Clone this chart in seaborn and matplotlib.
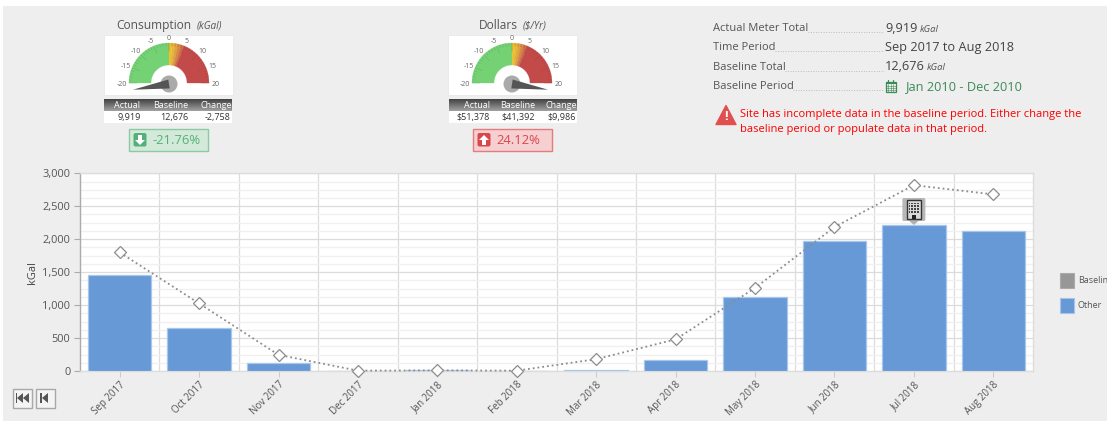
import numpy as np
import pandas as pd
import matplotlib
matplotlib.use("Agg")
import matplotlib.pyplot as plt
import seaborn as sns
from matplotlib.patches import Rectangle, FancyBboxPatch, Polygon, Circle
from matplotlib.ticker import MultipleLocator, FixedLocator, StrMethodFormatter

# ---- data ----
months = ["Sep 2017", "Oct 2017", "Nov 2017", "Dec 2017", "Jan 2018", "Feb 2018",
          "Mar 2018", "Apr 2018", "May 2018", "Jun 2018", "Jul 2018", "Aug 2018"]
actual = [1450, 660, 115, 6, 22, 6, 8, 165, 1120, 1975, 2220, 2130]
baseline = [1800, 1025, 245, 5, 10, 5, 180, 480, 1260, 2185, 2820, 2680]
gauge_titles = ["Consumption", "Dollars"]
gauge_units = ["(kGal)", "($/Yr)"]
gauge_ticks = [-20, -15, -10, -5, 0, 5, 10, 15, 20]
gauge_bands = [-20, 0, 1, 2, 3, 4, 5, 20]
gauge_colors = ["#74d174", "#eac22c", "#e6b63a", "#dfa23e", "#d68a40", "#cc6e44", "#c24b49"]
needles = [-22, 22]
table_heads = ["Actual", "Baseline", "Change"]
table_vals = [["9,919", "12,676", "-2,758"], ["$51,378", "$41,392", "$9,986"]]
pct_labels = ["-21.76%", "24.12%"]
info_labels = ["Actual Meter Total", "Time Period", "Baseline Total", "Baseline Period"]
info_values = ["9,919", "Sep 2017 to Aug 2018", "12,676", "Jan 2010 - Dec 2010"]
legend_names = ["Baseline", "Other"]

W, H = 1107, 421
sns.set_theme(style="white")
plt.rcParams["font.family"] = ["Open Sans", "DejaVu Sans"]
TXT = "#555555"
PANEL = "#eeeeee"

fig = plt.figure(figsize=(W / 100, H / 100), dpi=100, facecolor="white")

# page layer in pixel coordinates
pg = fig.add_axes([0, 0, 1, 1], zorder=0)
pg.set_xlim(0, W)
pg.set_ylim(H, 0)
pg.axis("off")
pg.add_patch(Rectangle((3, 6), W, H, fc=PANEL, ec="none"))


def px(s):
    return s * 0.72


def gauge(cx, cy, needle, idx):
    r0, r1 = 18, 40
    pl = 104 if idx == 0 else 448
    pg.add_patch(Rectangle((pl, 35), 129, 60, fc="white", ec="#e6e6e6", lw=0.5))
    for a, b, c in zip(gauge_bands[:-1], gauge_bands[1:], gauge_colors):
        th = np.radians(np.linspace(90 - a * 4.5, 90 - b * 4.5, 40))
        xs = np.r_[cx + r1 * np.cos(th), cx + r0 * np.cos(th[::-1])]
        ys = np.r_[cy - r1 * np.sin(th), cy - r0 * np.sin(th[::-1])]
        pg.fill(xs, ys, fc=c, ec=c, lw=0.2, zorder=2)
    for v in np.arange(-20, 21, 1):
        t = np.radians(90 - v * 4.5)
        inner = r1 - (8 if v % 5 == 0 else 3)
        col = "#55a055" if v < 0 else "#9c3c3a"
        pg.plot([cx + inner * np.cos(t), cx + r1 * np.cos(t)],
                [cy - inner * np.sin(t), cy - r1 * np.sin(t)], color=col, lw=0.35, alpha=.6, zorder=3)
    for v in gauge_ticks:
        t = np.radians(90 - v * 4.5)
        pg.text(cx + 47 * np.cos(t), cy + 1 - 46 * np.sin(t), str(v), fontsize=px(7), color="#666666",
                ha="center", va="center", zorder=4)
    pg.add_patch(Circle((cx, cy + 1), 8.5, fc="#aaaaaa", ec="none", zorder=4))
    t = np.radians(90 - needle * 4.5)
    n = np.array([np.cos(t), -np.sin(t)])
    p = np.array([-n[1], n[0]])
    c = np.array([cx, cy + 1])
    pts = [c + n * 36.5, c + p * 4.5, c - p * 4.5]
    pg.add_patch(Polygon(pts, fc="#555555", ec="none", zorder=5))


def table(left, idx, head_right, val_right):
    ramp = np.linspace(0.27, 0.62, 12).reshape(-1, 1)
    pg.imshow(ramp, extent=(left, left + 128, 111, 99), cmap="gray", vmin=0, vmax=1,
              aspect="auto", zorder=2)
    pg.set_xlim(0, W)
    pg.set_ylim(H, 0)
    pg.add_patch(Rectangle((left, 111), 128, 12, fc="white", ec="none", zorder=2))
    for h, v, hr, vr in zip(table_heads, table_vals[idx], head_right, val_right):
        pg.text(hr, 105.3, h, fontsize=px(9), color="white", ha="right", va="center", zorder=3)
        pg.text(vr, 117.3, v, fontsize=px(9), color="#333333", ha="right", va="center", zorder=3)


def badge(left, idx, fill, edge, fg, up):
    pg.add_patch(Rectangle((left, 129), 79, 22, fc=fill, ec=edge, lw=1, zorder=2))
    s = left + 4.5
    pg.add_patch(FancyBboxPatch((s, 133), 13, 13.5, boxstyle="round,pad=0,rounding_size=2",
                                fc=fg, ec="none", zorder=3))
    x = s + 6.5
    if up:
        arrow = [(x, 135), (x + 5, 140), (x + 2, 140), (x + 2, 145), (x - 2, 145), (x - 2, 140), (x - 5, 140)]
    else:
        arrow = [(x, 145), (x + 5, 140), (x + 2, 140), (x + 2, 135), (x - 2, 135), (x - 2, 140), (x - 5, 140)]
    pg.add_patch(Polygon(arrow, fc="white", ec="none", zorder=4))
    pg.text(s + 18.5, 140.5, pct_labels[idx], fontsize=px(13), color=fg, va="center", ha="left", zorder=3)


# gauges
gauge(169, 83, needles[0], 0)
gauge(512, 83, needles[1], 1)
table(104, 0, [140.5, 188.5, 232], [140.5, 188.5, 231])
table(449, 1, [490, 535, 577], [490, 535, 576])
badge(129, 0, "#d3eadb", "#8ccaa2", "#55b077", False)
badge(473, 1, "#f6cfd1", "#e27c7e", "#d9474b", True)
pg.text(116, 25.5, gauge_titles[0], fontsize=px(12), color=TXT, ha="left", va="center")
pg.text(197, 26, gauge_units[0], fontsize=px(10), color=TXT, ha="left", va="center", style="italic")
pg.text(479, 25.5, gauge_titles[1], fontsize=px(12), color=TXT, ha="left", va="center")
pg.text(523, 26, gauge_units[1], fontsize=px(10), color=TXT, ha="left", va="center", style="italic")

# info block
info_y = [28.5, 47.5, 67, 86.5]
label_end = [808, 775, 785, 793]
for lab, y, e in zip(info_labels, info_y, label_end):
    pg.text(713, y, lab, fontsize=px(11.1), color=TXT, ha="left", va="center")
    pg.plot([e, 884], [y + 3.5, y + 3.5], color="#bbbbbb", lw=0.7, ls=(0, (1, 1.6)))
for i, (v, y) in enumerate(zip(info_values, info_y)):
    if i == 3:
        continue
    pg.text(885, y, v, fontsize=px(12.7), color="#444444", ha="left", va="center")
pg.text(920, 29, "kGal", fontsize=px(9.5), color=TXT, ha="left", va="center", style="italic")
pg.text(927, 68, "kGal", fontsize=px(9.5), color=TXT, ha="left", va="center", style="italic")
pg.text(906, 86.5, info_values[3], fontsize=px(12.8), color="#3c8a58", ha="left", va="center")
# calendar icon
pg.add_patch(Rectangle((885.5, 82), 10, 10, fc="none", ec="#3c8a58", lw=0.9))
pg.add_patch(Rectangle((885.5, 82), 10, 2.2, fc="#3c8a58", ec="none"))
for k in (1, 2, 3):
    pg.plot([885.5 + k * 2.5] * 2, [84, 92], color="#3c8a58", lw=0.4)
    pg.plot([885.5, 895.5], [84 + k * 2] * 2, color="#3c8a58", lw=0.4)
for k in (888, 893):
    pg.plot([k, k], [80, 83], color="#3c8a58", lw=0.9)
# warning
pg.add_patch(Polygon([(726, 105.5), (736, 124.5), (716, 124.5)], closed=True, fc="#e0504f", ec="#e0504f",
                     lw=1, joinstyle="round"))
pg.text(726, 116.5, "!", color="white", fontsize=px(13), ha="center", va="center", weight="bold")
pg.text(740.5, 114, "Site has incomplete data in the baseline period. Either change the",
        color="#fb0000", fontsize=px(11.1), ha="left", va="center")
pg.text(740.5, 129.5, "baseline period or populate data in that period.",
        color="#fb0000", fontsize=px(11.1), ha="left", va="center")

# nav buttons
for bx in (12.5, 35.5):
    pg.add_patch(Rectangle((bx, 388.5), 19, 19.5, fc="#f4f4f4", ec="#a8a8a8", lw=1))
for x0 in (17, 23):
    pg.add_patch(Polygon([(x0 + 0, 398), (x0 + 6, 393), (x0 + 6, 403)], fc="#555555", ec="none"))
pg.add_patch(Rectangle((15.5, 393), 1.8, 10, fc="#555555", ec="none"))
pg.add_patch(Polygon([(42, 398), (48, 393), (48, 403)], fc="#555555", ec="none"))
pg.add_patch(Rectangle((40, 393), 1.8, 10, fc="#555555", ec="none"))

# legend
for y, col, ec, name in zip((273, 298), ("#979797", "#6699d6"), ("#aaaaaa", "#a5c4ea"), legend_names):
    pg.add_patch(Rectangle((1059.5, y), 14.5, 14.5, fc=col, ec=ec, lw=0.8))
    pg.text(1078, y + 7.5, name, fontsize=px(9), color=TXT, ha="left", va="center")

# main chart
L, R, T, B = 80, 1033, 173.3, 371
ax = fig.add_axes([L / W, 1 - B / H, (R - L) / W, (B - T) / H], zorder=2, facecolor="white")
df = pd.DataFrame({"month": months, "actual": actual, "baseline": baseline})
sns.barplot(data=df, x="month", y="actual", ax=ax, color="#6699d6", saturation=1, width=0.8,
            edgecolor="#a8c7ec", linewidth=0.9, zorder=3)
sns.lineplot(data=df, x="month", y="baseline", ax=ax, color="#8c8c8c", linestyle=":", linewidth=1.3,
             marker="D", markersize=6, markerfacecolor="white", markeredgecolor="#8c8c8c",
             markeredgewidth=0.9, sort=False, zorder=5, clip_on=False)
ax.set_xlim(-0.5, 11.5)
ax.set_ylim(0, 3000)
ax.set_xlabel("")
ax.set_ylabel("kGal", fontsize=px(11), color="#444444", labelpad=0, va="center")
ax.yaxis.set_label_coords((32 - L) / (R - L), 0.5)
ax.yaxis.set_major_locator(MultipleLocator(500))
ax.yaxis.set_minor_locator(MultipleLocator(125))
ax.yaxis.set_major_formatter(StrMethodFormatter("{x:,.0f}"))
ax.xaxis.set_minor_locator(FixedLocator(np.arange(0.5, 11)))
ax.set_axisbelow(True)
ax.grid(True, which="major", axis="y", color="#dcdcdc", lw=0.9)
ax.grid(True, which="minor", axis="y", color="#f0f0f0", lw=1.0)
ax.grid(True, which="minor", axis="x", color="#dddddd", lw=0.9)
ax.grid(False, which="major", axis="x")
ax.tick_params(axis="y", which="major", length=4, width=0.8, color="#aaaaaa", labelsize=px(11),
               labelcolor=TXT, pad=3, left=True)
ax.tick_params(axis="y", which="minor", length=0)
ax.tick_params(axis="x", which="major", length=4, width=0.8, color="#cccccc", labelsize=px(9.8),
               labelcolor=TXT, pad=2, bottom=True)
ax.tick_params(axis="x", which="minor", length=0)
ax.set_xticks(range(len(months)))
ax.set_xticklabels(months, rotation=45, ha="right", rotation_mode="anchor")
for s in ("top", "right", "bottom"):
    ax.spines[s].set_visible(True)
    ax.spines[s].set_color("#dddddd")
    ax.spines[s].set_linewidth(1)
ax.spines["left"].set_visible(True)
ax.spines["left"].set_color("#aaaaaa")
ax.spines["left"].set_linewidth(1)

# building flag above Jul 2018 bar, drawn on the page layer over the chart
top = fig.add_axes([0, 0, 1, 1], zorder=3, facecolor="none")
top.set_xlim(0, W)
top.set_ylim(H, 0)
top.axis("off")
fx = L + (R - L) * (months.index("Jul 2018") + 0.5) / 12
top.add_patch(FancyBboxPatch((fx - 11.5, 198), 23, 23, boxstyle="round,pad=0,rounding_size=1.5",
                             fc="#b0b0b0", ec="none", alpha=0.9))
top.add_patch(Polygon([(fx - 4.5, 221), (fx + 4.5, 221), (fx, 225)], fc="#b0b0b0", ec="none"))
top.add_patch(Rectangle((fx - 7, 200), 14, 19, fc="#d8d8d8", ec="#333333", lw=1))
for r in range(4):
    for c in range(4):
        top.add_patch(Rectangle((fx - 5.2 + c * 2.8, 202.5 + r * 2.8), 1.7, 1.7, fc="#444444", ec="none"))
top.add_patch(Rectangle((fx - 1.8, 215), 3.6, 4, fc="#222222", ec="none"))

fig.savefig("out.png", dpi=100, facecolor="white")
